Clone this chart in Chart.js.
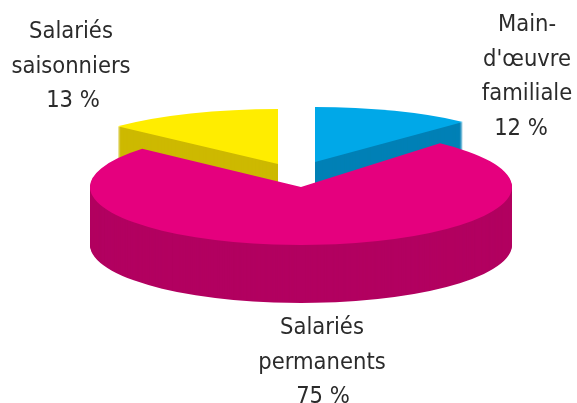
<!DOCTYPE html>
<html>
<head>
<meta charset="utf-8">
<style>
html, body { margin: 0; padding: 0; background: #fff; }
#box { width: 577px; height: 403px; }
</style>
<script src="https://cdn.jsdelivr.net/npm/chart.js@4/dist/chart.umd.min.js"></script>
</head>
<body>
<div id="box"><canvas id="chart" width="577" height="403"></canvas></div>
<script>
// Chart data, clockwise from 12 o'clock
const categories = [["Main-", "d'œuvre", "familiale"], ["Salariés", "permanents"], ["Salariés", "saisonniers"]];
const shares = [12, 75, 13];

const topColors = ['#00a8e8', '#e5007e', '#ffed00'];
const sideColors = ['#0080b6', '#b20060', '#cdb900'];

// Fake 3D: each slice is flattened and moved on its own, then stacked to get the side
const sliceCenters = [[315, 162], [301, 187], [278, 164]];
const sliceRadiusX = [216, 211, 220];
const sliceRadiusY = [55, 58, 55];
const sliceTilt = [0, -2, 0];
const drawOrder = [2, 0, 1];
const depth = 58;

// Text block anchors: center x and first baseline, the value line sits a bit off center
const labelAnchors = [[527, 31], [322, 334], [71, 38]];
const valueNudge = [-6, 1, 2];
const lineHeight = 34.5;

function drawSlice(ctx, el, i, shift, color) {
    const saved = el.options;
    el.options = { ...saved, backgroundColor: color, borderWidth: 0 };
    ctx.save();
    ctx.translate(sliceCenters[i][0], sliceCenters[i][1] + shift);
    ctx.scale(sliceRadiusX[i] / el.outerRadius, sliceRadiusY[i] / el.outerRadius);
    ctx.rotate(sliceTilt[i] * Math.PI / 180);
    ctx.translate(-el.x, -el.y);
    el.draw(ctx);
    ctx.restore();
    el.options = saved;
}

const flatPie = {
    id: 'flatPie',
    beforeDatasetsDraw(chart) {
        const ctx = chart.ctx;
        const arcs = chart.getDatasetMeta(0).data;
        drawOrder.forEach(i => {
            for (let d = depth; d > 0; d--) {
                drawSlice(ctx, arcs[i], i, d, sideColors[i]);
            }
            drawSlice(ctx, arcs[i], i, 0, topColors[i]);
        });
        return false; // skip the normal flat drawing
    }
};

const sliceLabels = {
    id: 'sliceLabels',
    afterDraw(chart) {
        const ctx = chart.ctx;
        ctx.save();
        ctx.font = '23.5px "DejaVu Sans Condensed", "DejaVu Sans"';
        ctx.fillStyle = '#2b2b2b';
        ctx.textAlign = 'center';
        ctx.textBaseline = 'alphabetic';
        categories.forEach((lines, i) => {
            const [x, y] = labelAnchors[i];
            lines.forEach((line, n) => ctx.fillText(line, x, y + n * lineHeight));
            ctx.fillText(shares[i] + ' %', x + valueNudge[i], y + lines.length * lineHeight);
        });
        ctx.restore();
    }
};

new Chart(document.getElementById('chart'), {
    type: 'pie',
    data: {
        labels: categories.map(c => c.join(' ')),
        datasets: [{ data: shares, backgroundColor: topColors, borderWidth: 0 }]
    },
    options: {
        responsive: false,
        animation: false,
        plugins: { legend: { display: false }, tooltip: { enabled: false } }
    },
    plugins: [flatPie, sliceLabels]
});
</script>
</body>
</html>
